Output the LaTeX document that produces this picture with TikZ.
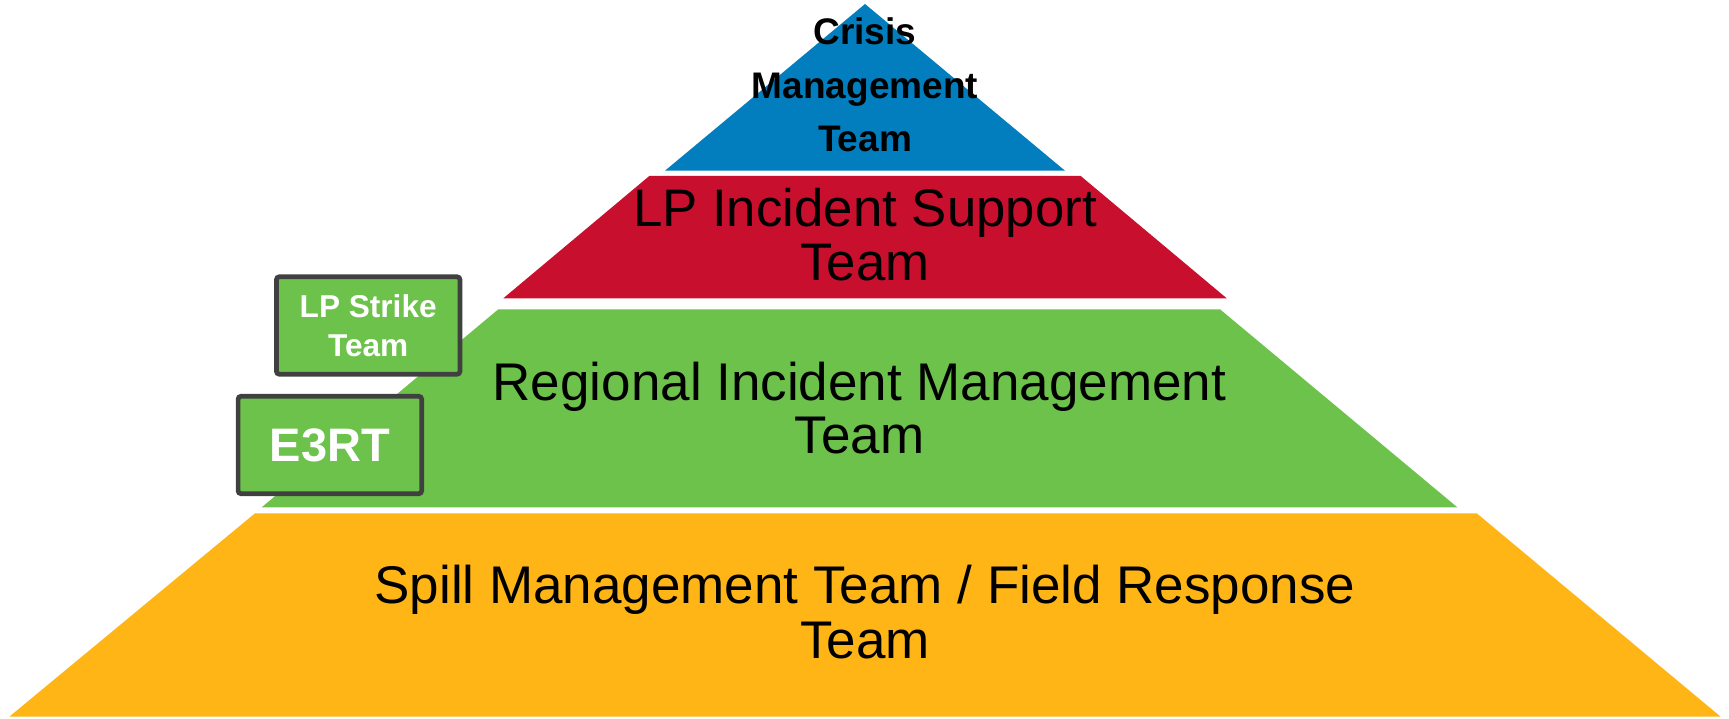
\documentclass[tikz,border=0pt]{standalone}
\usepackage{fontspec}
\setmainfont{Liberation Sans}
\usepackage{tikz}
\usetikzlibrary{calc}
\definecolor{cmtblue}{RGB}{2,125,189}
\definecolor{istred}{RGB}{200,16,46}
\definecolor{imtgreen}{RGB}{108,194,74}
\definecolor{smtorange}{RGB}{254,181,21}
\definecolor{boxgray}{RGB}{64,64,64}
\newcommand{\layer}[7]{ \fill[#1] ( #2 , #4 ) -- ( #3 , #4 ) -- ( #6 , #7 ) -- ( #5 , #7 ) -- cycle;}
\newcommand{\tiertext}[4]{\node[anchor=base, align=center, inner sep=0pt, font=#3] (#1) at #2 {#4};}
\tikzset{
  teambox/.style={draw=boxgray, line width=4.7pt, fill=imtgreen, rounded corners=3pt,
    minimum width=183.6pt, minimum height=97.5pt, inner sep=0pt, text=white, align=center}
}

\begin{document}
\begin{tikzpicture}[x=1pt,y=-1pt]
        \useasboundingbox (0,0) rectangle (1729,719);
        % tiers
        \layer{cmtblue}{865}{865}{4}{665}{1065}{170.7}
        \layer{istred}{649.3}{1080.7}{176}{503.3}{1226.7}{298.3}
        \layer{imtgreen}{498.3}{1220}{309.3}{261.7}{1457.3}{507.3}
        \layer{smtorange}{255}{1476.7}{513.3}{9.3}{1720.7}{716.7}

        % labels (anchored on the last line)
        \tiertext{cmt}{(865,152)}{\fontsize{37}{53.5}\selectfont\bfseries}{Crisis\\Management\\Team}
        \tiertext{ist}{(865,280)}{\fontsize{52.8}{53.3}\selectfont}{LP Incident Support\\Team}
        \tiertext{rimt}{(859.5,453)}{\fontsize{53}{53}\selectfont}{Regional Incident Management\\Team}
        \tiertext{smt}{(865,658)}{\fontsize{53}{55}\selectfont}{Spill Management Team / Field Response\\Team}

        % side teams
        \node[teambox, font=\fontsize{31.6}{38.7}\selectfont\bfseries] (strike) at (368.2,325.5) {LP Strike\\Team};
        \node[teambox, font=\fontsize{47}{47}\selectfont\bfseries] (e3rt) at (329.9,445) {E3RT};
    \end{tikzpicture}
\end{document}
